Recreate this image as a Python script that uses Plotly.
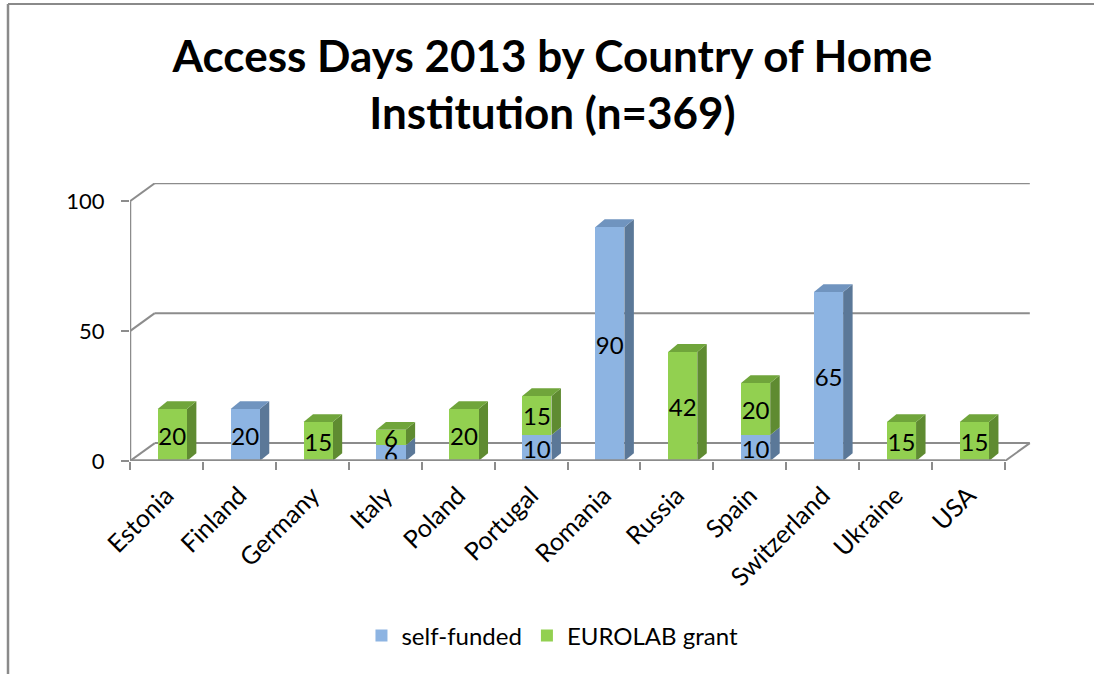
import plotly.graph_objects as go

# ---- data ----
countries = ["Estonia", "Finland", "Germany", "Italy", "Poland", "Portugal",
             "Romania", "Russia", "Spain", "Switzerland", "Ukraine", "USA"]
self_funded = [0, 20, 0, 6, 0, 10, 90, 0, 10, 65, 0, 0]
eurolab_grant = [20, 0, 15, 6, 20, 15, 0, 42, 20, 0, 15, 15]
y_ticks = [0, 50, 100]

# ---- style ----
FONT = "Lato"
BLUE_FRONT, BLUE_SIDE, BLUE_TOP = "#8DB4E2", "#5B7898", "#7094BF"
GREEN_FRONT, GREEN_SIDE, GREEN_TOP = "#92D050", "#5F8B31", "#70A53B"
GRID = "#8C8C8C"

BAR_W, BAR_OFF = 0.4, -0.12      # bar front-face width / offset (category units)
BDX, BDY = 0.13, 3.0             # bar depth (x in categories, y in values)
DX, DY = 0.34, 6.9               # wall/floor depth
n = len(countries)


def labels(vals):
    return [str(v) if v > 0 else "" for v in vals]


fig = go.Figure()
for name, vals, col in [("self-funded", self_funded, BLUE_FRONT),
                        ("EUROLAB grant", eurolab_grant, GREEN_FRONT)]:
    fig.add_bar(
        x=countries, y=vals, name=name,
        marker=dict(color=col, line=dict(width=0)),
        width=BAR_W, offset=BAR_OFF,
        text=labels(vals), textposition="inside", insidetextanchor="middle",
        textangle=0, constraintext="none",
        textfont=dict(family=FONT, size=24, color="black"),
        hoverinfo="x+y+name",
    )

shapes = []


def line(x0, y0, x1, y1, width=2, layer="below", color=GRID, ref="x"):
    shapes.append(dict(type="line", x0=x0, y0=y0, x1=x1, y1=y1,
                       xref=ref if ref == "paper" else "x",
                       yref="paper" if ref == "paper" else "y",
                       line=dict(color=color, width=width), layer=layer))


# back wall gridlines + diagonals to front axis
for v in y_ticks:
    line(-0.5 + DX, v + DY, n - 0.5 + DX, v + DY)
    line(-0.5, v, -0.5 + DX, v + DY)
# floor right edge
line(n - 0.5, 0, n - 0.5 + DX, DY)


def poly(pts, color):
    path = "M " + " L ".join(f"{x},{y}" for x, y in pts) + " Z"
    shapes.append(dict(type="path", path=path, xref="x", yref="y",
                       fillcolor=color, line=dict(width=0), layer="below"))


# 3D side/top faces derived from the data
for i in range(n):
    segs = []
    base = 0
    for vals, side, top in [(self_funded, BLUE_SIDE, BLUE_TOP),
                            (eurolab_grant, GREEN_SIDE, GREEN_TOP)]:
        v = vals[i]
        if v > 0:
            segs.append((base, base + v, side, top))
        base += v
    xl = i + BAR_OFF
    xr = xl + BAR_W
    for (y0, y1, side, top) in segs:
        poly([(xr, y0), (xr + BDX, y0 + BDY), (xr + BDX, y1 + BDY), (xr, y1)], side)
    if segs:
        y0, y1, side, top = segs[-1]
        poly([(xl, y1), (xr, y1), (xr + BDX, y1 + BDY), (xl + BDX, y1 + BDY)], top)

# front axis lines
line(-0.5, 0, -0.5, max(y_ticks), width=2.5, layer="above")
line(-0.5, 0, n - 0.5, 0, width=3.5, layer="above")

# chart-area frame (top and left edges)
PLOT_TOP, PLOT_H, PLOT_L, PLOT_W = 183, 278, 130, 902
def px2paper_x(px):
    return (px - PLOT_L) / PLOT_W
def px2paper_y(py):
    return (PLOT_TOP + PLOT_H - py) / PLOT_H
line(px2paper_x(8), px2paper_y(4), px2paper_x(1094), px2paper_y(4), width=2,
     color="#8A8A8A", ref="paper", layer="above")
line(px2paper_x(8), px2paper_y(4), px2paper_x(8), px2paper_y(674), width=2.5,
     color="#8A8A8A", ref="paper", layer="above")

fig.update_layout(
    width=1094, height=674, autosize=False,
    margin=dict(l=PLOT_L, r=1094 - PLOT_L - PLOT_W, t=PLOT_TOP, b=674 - PLOT_TOP - PLOT_H),
    barmode="stack",
    plot_bgcolor="white", paper_bgcolor="white",
    font=dict(family=FONT, size=22, color="black"),
    title=dict(text="<b>Access Days 2013 by Country of Home<br>Institution (n=369)</b>",
               font=dict(family=FONT, size=44, color="black"),
               x=0.505, xanchor="center", xref="container",
               y=1 - 72 / 674, yanchor="top", yref="container"),
    legend=dict(orientation="h", x=0.505, xanchor="center", xref="container",
                y=1 - 636 / 674, yanchor="middle", yref="container",
                traceorder="normal",
                font=dict(family=FONT, size=24, color="black")),
    xaxis=dict(type="category", range=[-0.5, n - 0.5 + DX + 0.03],
               tickson="boundaries", ticks="outside", ticklen=8, tickwidth=2,
               tickcolor=GRID, tickangle=-45, showline=False, showgrid=False,
               zeroline=False, ticklabelstandoff=14,
               tickfont=dict(family=FONT, size=25)),
    yaxis=dict(range=[0, 107], tickvals=y_ticks, ticks="outside", ticklen=8,
               tickwidth=2, tickcolor=GRID, showline=False, showgrid=False,
               zeroline=False, ticklabelstandoff=12,
               tickfont=dict(family=FONT, size=22)),
    shapes=shapes,
)

fig.write_html("out.html",
               config={"displayModeBar": False},
               post_script="document.body.style.margin='0';"
                           "document.body.style.overflow='hidden';")
